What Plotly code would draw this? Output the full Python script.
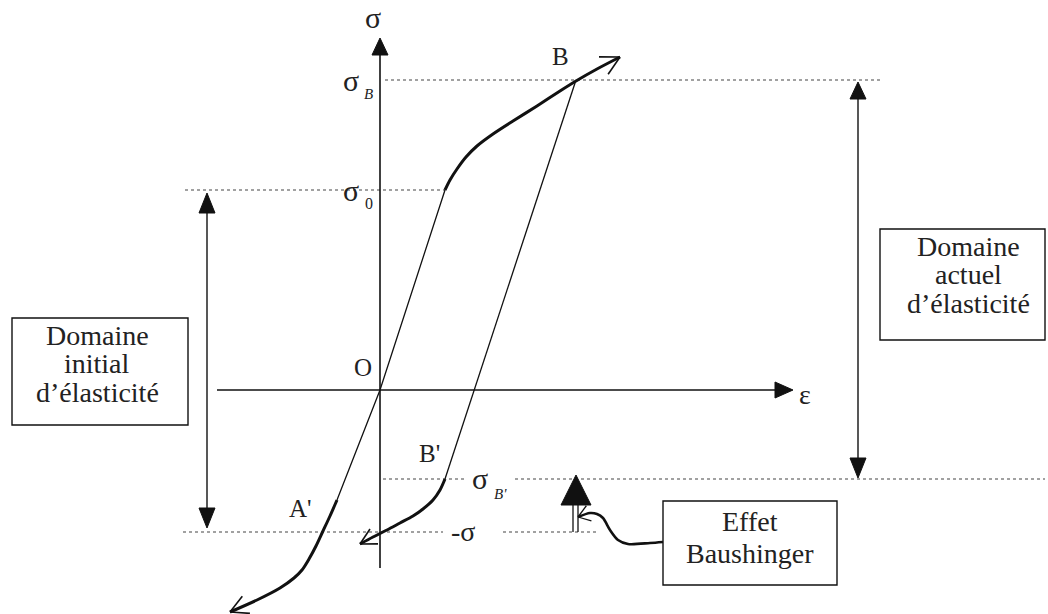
import numpy as np
import plotly.graph_objects as go

# ---- stress levels (origin at O, same unit on both axes) ----
SIGMA_B = 310      # stress reached at B
SIGMA_0 = 200      # initial yield stress
SIGMA_BP = -89     # reverse yield stress at B'
SIGMA_NEG = -142   # symmetric compressive yield (-sigma)

# initial elastic line through O
elastic_eps = [-43, 0, 65]
elastic_sig = [-110, 0, 200]

# work-hardening branch sigma_0 -> B (and beyond)
hard_eps = [65, 70, 77, 86, 97, 113, 133, 157, 180, 196, 217, 240]
hard_sig = [200, 210, 221, 233, 244, 256, 269, 284, 299, 309, 321, 333]

# elastic unloading B -> B'
unload_eps = [196, 65]
unload_sig = [310, -89]

# reverse plastic flow after B'
rev_eps = [65, 60, 53, 43, 33, 20, 7, -7, -20]
rev_sig = [-89, -100, -110, -119, -126, -133, -140, -147, -154]

# compressive plastic flow after A'
comp_eps = [-43, -50, -57, -64, -71, -78, -86, -100, -123, -150]
comp_sig = [-110, -126, -141, -156, -169, -180, -188, -198, -210, -222]

# leader from the "Effet Baushinger" box to the arrow
lead_eps = [283, 270, 248, 238, 230, 223, 217, 210, 198]
lead_sig = [-152, -153, -154, -150, -140, -128, -124, -123, -127]

# dotted reference levels: (level, [eps start, eps end], ...)
dotted = [
    (SIGMA_B, [(5, 500)]),
    (SIGMA_0, [(-195, 65)]),
    (SIGMA_BP, [(3, 85), (135, 665)]),
    (SIGMA_NEG, [(-197, 63), (123, 217)]),
]

FONT = "Liberation Serif"
INK = "#111111"

fig = go.Figure()


def line(x, y, width=1.3, dash=None, color=INK, shape="linear", smoothing=0.8):
    fig.add_trace(go.Scatter(x=x, y=y, mode="lines", hoverinfo="skip",
                             line=dict(color=color, width=width, dash=dash,
                                       shape=shape, smoothing=smoothing)))


def unit(dx, dy):
    n = np.hypot(dx, dy)
    return dx / n, dy / n


def open_head(x, y, length=19, angle=28, width=1.3):
    """V-shaped open arrowhead at the last point of a polyline."""
    dx, dy = unit(x[-1] - x[-2], y[-1] - y[-2])
    base = np.arctan2(-dy, -dx)
    xs, ys = [], []
    for s in (1, -1):
        a = base + s * np.radians(angle)
        xs += [x[-1], x[-1] + length * np.cos(a), None]
        ys += [y[-1], y[-1] + length * np.sin(a), None]
    line(xs, ys, width=width)


def filled_head(tx, ty, dx, dy, length, half):
    ux, uy = unit(dx, dy)
    bx, by = tx - length * ux, ty - length * uy
    px, py = -uy, ux
    fig.add_trace(go.Scatter(
        x=[tx, bx + half * px, bx - half * px, tx],
        y=[ty, by + half * py, by - half * py, ty],
        mode="lines", fill="toself", fillcolor=INK, hoverinfo="skip",
        line=dict(color=INK, width=1)))
    return bx, by


# dotted levels
for lvl, segs in dotted:
    xs, ys = [], []
    for a, b in segs:
        xs += [a, b, None]
        ys += [lvl, lvl, None]
    line(xs, ys, width=1.2, dash="dot", color="#444444")

# axes with filled arrowheads
filled_head(0, 352, 0, 1, 17, 8)
line([0, 0], [-178, 340], width=1.6)
filled_head(413, 0, 1, 0, 18, 8)
line([-163, 400], [0, 0], width=1.6)

# curves
line(elastic_eps, elastic_sig, width=1.3)
line(hard_eps, hard_sig, width=3.0, shape="spline")
open_head(hard_eps, hard_sig, length=21, width=1.6)
line(unload_eps, unload_sig, width=1.3)
line(rev_eps, rev_sig, width=3.0, shape="spline")
open_head(rev_eps, rev_sig, length=18, width=1.6)
line(comp_eps, comp_sig, width=3.0, shape="spline")
open_head(comp_eps, comp_sig, length=20, width=1.6)

# domain double arrows
LX, RX = -173, 478
filled_head(LX, SIGMA_0 - 3, 0, 1, 20, 8)
filled_head(LX, SIGMA_NEG + 4, 0, -1, 20, 8)
line([LX, LX], [SIGMA_0 - 20, SIGMA_NEG + 20], width=1.4)
filled_head(RX, SIGMA_B - 2, 0, 1, 17, 8)
filled_head(RX, SIGMA_BP + 1, 0, -1, 20, 8)
line([RX, RX], [SIGMA_B - 17, SIGMA_BP + 20], width=1.4)

# Bauschinger shift arrow
BX = 196
filled_head(BX, SIGMA_BP + 4, 0, 1, 30, 15)
line([BX - 3, BX - 3, None, BX + 2, BX + 2],
     [SIGMA_NEG, -115, None, SIGMA_NEG, -115], width=1.3)
line(lead_eps, lead_sig, width=2.6, shape="spline")
open_head(lead_eps, lead_sig, length=14, angle=35, width=1.3)

# boxes
boxes = [(-368, 72, -192, -35), (500, 161, 665, 50), (283, -111, 457, -195)]
for x0, y0, x1, y1 in boxes:
    fig.add_shape(type="rect", x0=x0, y0=y0, x1=x1, y1=y1,
                  line=dict(color=INK, width=1.4), fillcolor="rgba(0,0,0,0)")


def text(x, y, s, size=24, italic=False):
    if italic:
        s = "<i>" + s + "</i>"
    fig.add_annotation(x=x, y=y, text=s, showarrow=False,
                       xanchor="center", yanchor="middle",
                       font=dict(family=FONT, size=size, color="#222222"))


# axis and point labels
text(-7, 373, "σ", 30)
text(413 + 12, -4, "ε", 28)
text(-17, 23, "O", 25)
text(180, 334, "B", 25)
text(49, -63, "B'", 25)
text(-80, -118, "A'", 25)
text(-29, 310, "σ", 30)
text(-12, 296, "B", 15, italic=True)
text(-29, 200, "σ", 30)
text(-11, 187, "0", 16)
text(100, -88, "σ", 30)
text(120, -104, "B'", 15, italic=True)
text(83, -141, "-σ", 28)

# box texts
for i, s in enumerate(["Domaine", "initial", "d\u2019élasticité"]):
    text(-283, 55 - 28.5 * i, s, 28)
for i, s in enumerate(["Domaine", "actuel", "d\u2019élasticité"]):
    text(588, 144 - 28.5 * i, s, 28)
for i, s in enumerate(["Effet", "Baushinger"]):
    text(370, -131 - 32 * i, s, 28)

fig.update_layout(
    width=1048, height=614, margin=dict(l=0, r=0, t=0, b=0),
    paper_bgcolor="white", plot_bgcolor="white", showlegend=False,
    xaxis=dict(range=[-380, 668], visible=False, fixedrange=True),
    yaxis=dict(range=[-224, 390], visible=False, fixedrange=True),
)

fig.write_html("out.html")
